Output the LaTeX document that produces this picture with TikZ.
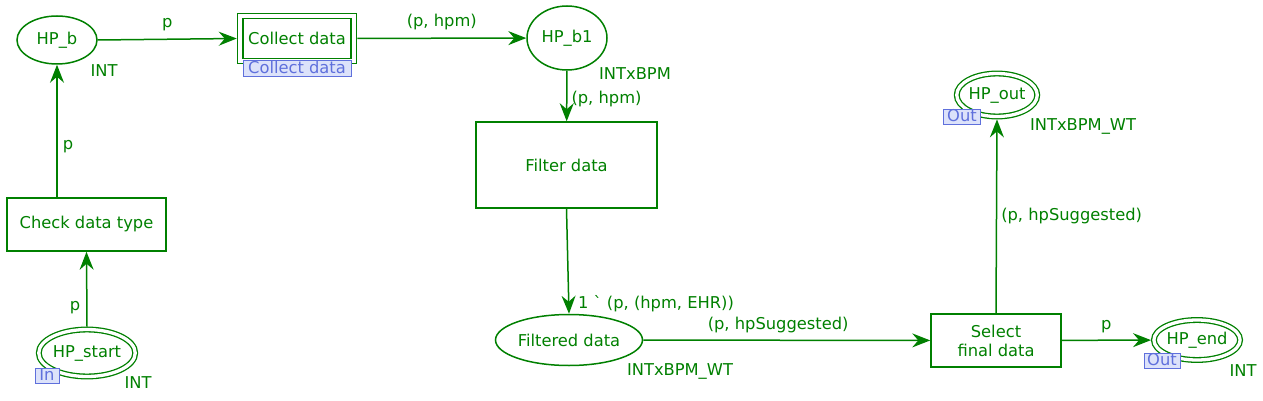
\documentclass[tikz,border=0pt]{standalone}
\usepackage{fontspec}
\setmainfont{DejaVu Sans}
\newfontfamily\nolig{DejaVu Sans}
\usetikzlibrary{arrows.meta,shapes.geometric}
\definecolor{cpn}{RGB}{0,128,0}
\definecolor{tagfill}{RGB}{220,226,250}
\definecolor{tagdraw}{RGB}{95,112,220}
\begin{document}
\begin{tikzpicture}[x=1pt,y=-1pt,
  every node/.style={font=\fontsize{16.3}{19}\selectfont, text=cpn},
  place/.style={ellipse, draw=cpn, line width=1.5pt, inner sep=0pt},
  port/.style={place, double=white, double distance=3.3pt, line width=1.3pt, outer sep=2.9pt},
  trans/.style={rectangle, draw=cpn, line width=1.5pt, inner sep=0pt, align=center},
  tag/.style={rectangle, draw=tagdraw, fill=tagfill, text=tagdraw, line width=1pt, inner sep=1.2pt, text height=11.5pt, text depth=2pt},
  lbl/.style={inner sep=0pt},
  arc/.style={draw=cpn, line width=1.5pt, -{Stealth[length=18pt,width=14pt,inset=6pt]}}
]
\useasboundingbox (0,0) rectangle (1263,401);
% places
\node[place, minimum width=80pt, minimum height=48pt] (hpb) at (57,40) {HP\_b};
\node[lbl] (hpbt) at (104,71) {INT};
\node[place, minimum width=80pt, minimum height=64pt] (hpb1) at (567,38) {HP\_b1};
\node[lbl] (hpb1t) at (635,74) {INTxBPM};
\node[place, minimum width=147pt, minimum height=51pt] (filt) at (569,340) {Filtered data};
\node[lbl] (filtt) at (680,371) {INTxBPM\_WT};
\node[port, minimum width=88pt, minimum height=47pt] (start) at (87,353) {HP\_start};
\node[tag, minimum width=24pt] (startin) at (47,376) {In};
\node[lbl] (startt) at (138,383) {INT};
\node[port, minimum width=70pt, minimum height=43pt] (out) at (997,95) {HP\_out};
\node[tag, minimum width=37pt] (outtag) at (962,117) {Out};
\node[lbl] (outt) at (1083,126) {INTxBPM\_WT};
\node[port, minimum width=72pt, minimum height=40pt] (end) at (1197,340) {HP\_end};
\node[tag, minimum width=36pt] (endtag) at (1162,361) {Out};
\node[lbl] (endt) at (1243,371) {INT};
% transitions
\node[trans, minimum width=119pt, minimum height=50pt] (coll) at (297,38.5) {};
\node[trans, minimum width=108pt, minimum height=40pt] (collin) at (297,38.5) {Collect data};
\node[tag, minimum width=108pt] (colltag) at (297,68.5) {Collect data};
\node[trans, minimum width=181pt, minimum height=86pt] (filter) at (566.5,165) {Filter data};
\node[trans, minimum width=159pt, minimum height=53pt] (check) at (86.5,224.5) {Check data type};
\node[trans, minimum width=130pt, minimum height=53pt] (select) at (996,340.5) {Select\\final data};
% arcs
\draw[arc] (hpb.east) -- node[lbl, above=8pt] {p} (coll.west);
\draw[arc] (coll) -- node[lbl, above=8pt, pos=0.5] {(p, hpm)} (hpb1);
\draw[arc] (hpb1) -- node[lbl, right=4pt, pos=0.55] {(p, hpm)} (filter);
\draw[arc] (filter.south) -- (filt.north);
\node[lbl] (filtarc) at (656,304) {1 {\nolig`} (p, (hpm, EHR))};
\draw[arc] (filt) -- node[lbl, above=7pt, pos=0.47] {(p, hpSuggested)} (select);
\draw[arc] (select) -- node[lbl, above=7pt, pos=0.5] {p} (end);
\draw[arc] (select.north) -- node[lbl, right=4pt, pos=0.5] {(p, hpSuggested)} (out.south);
\draw[arc] (check.north -| hpb.south) -- node[lbl, right=5pt, pos=0.38] {p} (hpb.south);
\draw[arc] (start.north) -- (check.south);
\node[lbl] (startarc) at (75,308) {p};
\end{tikzpicture}
\end{document}
